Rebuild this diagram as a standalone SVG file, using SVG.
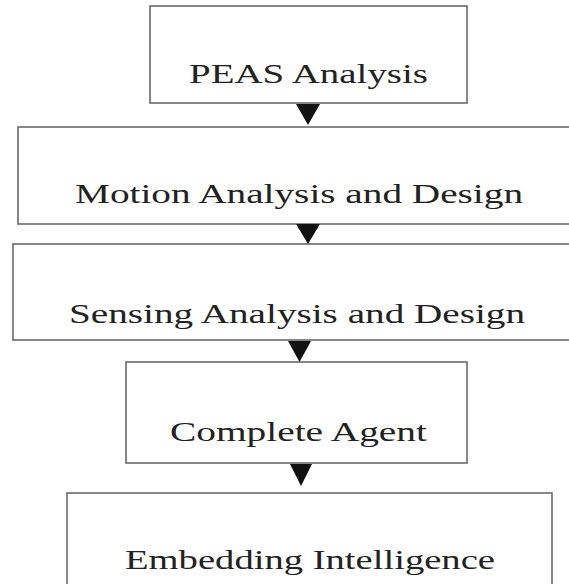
<svg xmlns="http://www.w3.org/2000/svg" width="569" height="584" viewBox="0 0 569 584">
<style>
.box{fill:#fff;stroke:#6a6a6a;stroke-width:1.6}
.lbl{font-family:"Liberation Serif","Times New Roman",serif;font-size:27px;fill:#222}
.arr{fill:#111}
</style>
<rect width="569" height="584" fill="#fff"/>
<g id="n1"><rect class="box" x="150" y="6" width="317" height="97"/><text class="lbl" transform="translate(189,83) scale(1.43,1)" x="0" y="0" textLength="167.1" lengthAdjust="spacingAndGlyphs">PEAS Analysis</text></g>
<g id="n2"><rect class="box" x="18" y="127" width="560" height="97"/><text class="lbl" transform="translate(75,203) scale(1.43,1)" x="0" y="0" textLength="313.3" lengthAdjust="spacingAndGlyphs">Motion Analysis and Design</text></g>
<g id="n3"><rect class="box" x="13" y="244" width="565" height="96"/><text class="lbl" transform="translate(69,323) scale(1.43,1)" x="0" y="0" textLength="318.9" lengthAdjust="spacingAndGlyphs">Sensing Analysis and Design</text></g>
<g id="n4"><rect class="box" x="126" y="362" width="341" height="101"/><text class="lbl" transform="translate(170,441) scale(1.43,1)" x="0" y="0" textLength="179.7" lengthAdjust="spacingAndGlyphs">Complete Agent</text></g>
<g id="n5"><rect class="box" x="67" y="493" width="485" height="100"/><text class="lbl" transform="translate(125,569) scale(1.43,1)" x="0" y="0" textLength="258.7" lengthAdjust="spacingAndGlyphs">Embedding Intelligence</text></g>
<g id="connectors">
<polygon class="arr" points="296,104 320,104 308,125"/>
<polygon class="arr" points="296,224 320,224 308,244"/>
<polygon class="arr" points="288,341 311,341 299.5,362"/>
<polygon class="arr" points="290,464 312,464 301,486"/>
</g>
</svg>
